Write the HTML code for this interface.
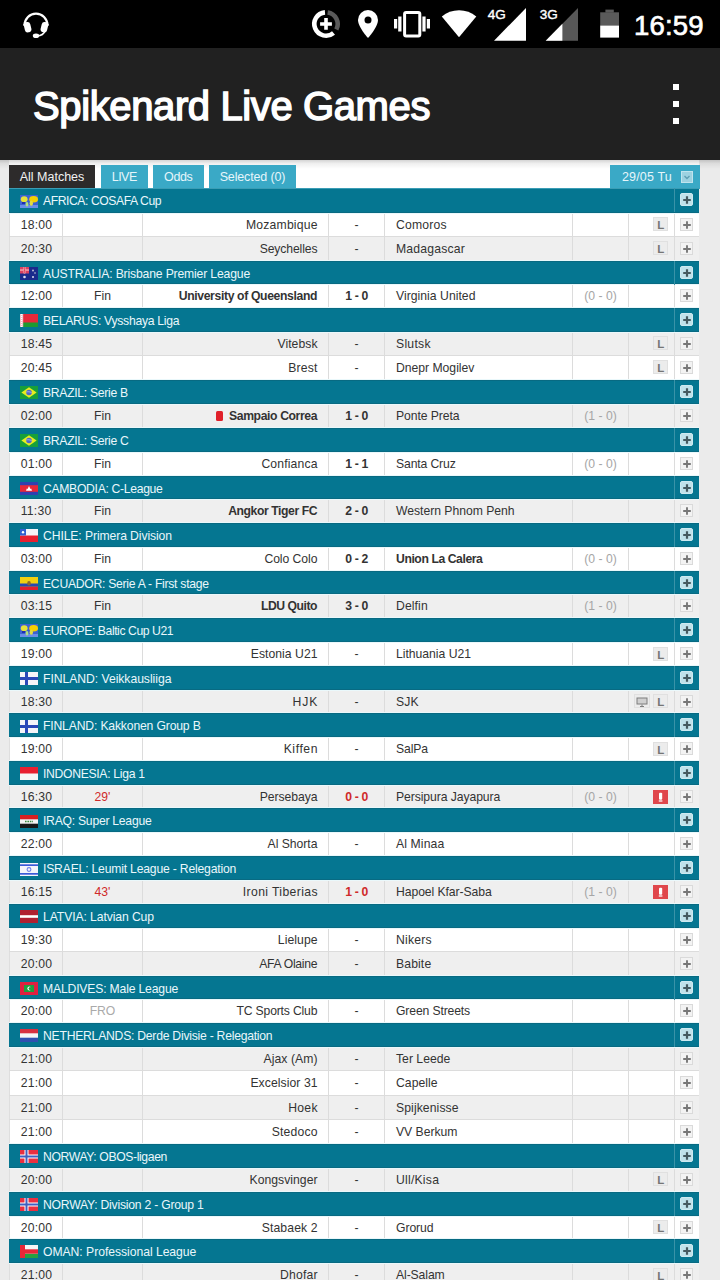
<!DOCTYPE html>
<html><head><meta charset="utf-8">
<style>
*{margin:0;padding:0;box-sizing:border-box}
html,body{width:720px;height:1280px;overflow:hidden;background:#ebebeb;font-family:"Liberation Sans",sans-serif}
#sb{position:absolute;left:0;top:0;width:720px;height:48px;background:#000}
#ab{position:absolute;left:0;top:48px;width:720px;height:112px;background:#212121}
#title{position:absolute;left:33px;top:30px;font-size:40px;font-weight:normal;-webkit-text-stroke:1.5px #fff;color:#fff;letter-spacing:-0.38px;line-height:56px;white-space:nowrap}
#menu{position:absolute;left:673px;top:36px;width:6px;height:40px}
#menu i{position:absolute;left:0;width:6px;height:6px;background:#fff}
#shadow{position:absolute;left:0;top:160px;width:720px;height:9px;background:linear-gradient(rgba(0,0,0,.17),rgba(0,0,0,.06) 40%,rgba(0,0,0,0))}
#wrap{position:absolute;left:9px;top:160px;width:690px;height:1117px;background:#fff}
.tab{position:absolute;top:165px;height:23px;line-height:24px;font-size:12.5px;color:#e6f6fb;text-align:center;letter-spacing:0;background:#3aa9c6;white-space:nowrap}
#t0{left:9px;width:86px;background:#2d2b2b;color:#f2f2f2}
#t1{left:101px;width:46.5px}
#t2{left:153px;width:50.5px}
#t3{left:209px;width:87px}
#date{position:absolute;left:610px;top:165px;width:89.5px;height:23.5px;background:#3aa9c6;color:#e6f6fb;font-size:12.5px;line-height:24px;letter-spacing:0.15px;padding-left:12px;white-space:nowrap}
#date .dd{position:absolute;left:70.5px;top:6px;width:12px;height:12px;background:#9dd2e1;border:1px solid #c0e4ee}
#date .dd svg{display:block}
#tbl{position:absolute;left:0;top:0;width:720px;height:1280px}
.hd{position:absolute;left:9px;width:690px;height:23.875px;background:#057691;border-top:1px solid #086a82;border-bottom:1px solid #086a82;box-shadow:0 -1px 0 #eaf8fb,0 1px 0 #eaf8fb;z-index:1}
.hd .fl{position:absolute;left:11px;top:5.3px}
.hd .ht{position:absolute;left:34px;top:0;line-height:24px;font-size:12.2px;color:#eaf7fb;letter-spacing:-0.38px;white-space:nowrap}
.hd .hdiv{position:absolute;left:665px;top:-1px;width:1px;height:23.875px;background:#3a93a8}
.hd .pb{position:absolute;left:671px;top:4.1px;width:12.8px;height:13px}
.mr{position:absolute;left:9px;width:690px;height:23.875px;border-bottom:1px solid #dcdcdc;box-shadow:inset 1px 0 0 #dedede;font-size:12.2px;color:#333}
.mr.w{background:#fff}
.mr.g{background:#efefef}
.c{position:absolute;top:0;height:100%;line-height:24px;white-space:nowrap;border-right:1px solid #dcdcdc}
.c0{left:0;width:54px;padding-left:11.8px;letter-spacing:0.2px}
.c1{left:54px;width:80px;text-align:center}
.c2{left:134px;width:186px;text-align:right;padding-right:10.5px;letter-spacing:-0.1px}
.c3{left:320px;width:56px;text-align:center}
.c4{left:376px;width:188px;padding-left:11px;letter-spacing:-0.1px}
.c5{left:564px;width:56px;text-align:center;color:#a6a6a6}
.c6{left:620px;width:46px;text-align:right;padding-right:5.7px}
.c7{left:666px;width:24px;border-right:none}
.b{font-weight:bold;letter-spacing:-0.35px}
.red{color:#cf2a2a}
.fro{color:#aaa}
.pb{position:absolute;left:5px;top:5px;width:13px;height:13px;background:#f3f3f3;border:1px solid #dadada}
.pb svg{position:absolute;left:0;top:0}
.pb.hp{background:#c0e2eb;border:1px solid #cdeaf1;border-radius:2px}
.lb{display:inline-block;vertical-align:top;margin-top:4.5px;width:15px;height:14px;line-height:14px;text-align:center;background:#ececec;border:1px solid #e0e0e0;color:#757575;font-weight:bold;font-size:11.5px}
.tv{display:inline-block;vertical-align:top;margin-top:4.5px;margin-right:3.5px;width:15.5px;height:14px;background:#ececec;border:1px solid #e0e0e0;position:relative}
.tv svg{position:absolute;left:1px;top:1.5px}
.ex{display:inline-block;vertical-align:top;margin-top:5.3px;width:15px;height:14px;line-height:14px;text-align:center;background:#e0474c;color:#fff;font-weight:bold;font-size:11px}
.rc{display:inline-block;width:7px;height:10px;background:#e0202a;border-radius:1.5px;margin-right:6px;vertical-align:-1px}
.sb-ic{position:absolute}
</style></head><body>
<div id="sb">
 <svg style="position:absolute;left:0;top:0" width="720" height="48" viewBox="0 0 720 48">
  <!-- headset -->
  <path d="M24.6 25 A11.4 11.4 0 0 1 47.4 25" fill="none" stroke="#fff" stroke-width="2.3"/>
  <path d="M24.6 24 V26 M47.4 24 V26" stroke="#fff" stroke-width="2.3"/>
  <rect x="24.3" y="22" width="6.6" height="10.4" rx="3" fill="#fff" transform="rotate(-14 27.6 27.2)"/>
  <rect x="41.1" y="22" width="6.6" height="10.4" rx="3" fill="#fff" transform="rotate(14 44.4 27.2)"/>
  <path d="M45 31 Q43.5 35.5 37 36" fill="none" stroke="#fff" stroke-width="1.6"/>
  <ellipse cx="36" cy="35.8" rx="3.2" ry="2.3" fill="#fff"/>
  <!-- data saver -->
  <path d="M333.52 32.96 A11.7 11.7 0 1 1 324.98 12.34" fill="none" stroke="#fff" stroke-width="4.6"/>
  <path d="M327.63 12.41 A11.7 11.7 0 0 1 336.33 29.49" fill="none" stroke="#5a5a5a" stroke-width="4.6"/>
  <path d="M326 18v11.8M320.1 24h11.8" stroke="#fff" stroke-width="3.6"/>
  <!-- location -->
  <path d="M368 10 A10 10 0 0 1 378 20 C378 27 368 38 368 38 C368 38 358 27 358 20 A10 10 0 0 1 368 10z" fill="#fff"/>
  <circle cx="368" cy="20" r="3.5" fill="#000"/>
  <!-- vibrate -->
  <rect x="404.6" y="12.4" width="15.2" height="23.6" rx="1.5" fill="none" stroke="#fff" stroke-width="3"/>
  <rect x="394" y="19" width="3.2" height="9.5" fill="#fff"/>
  <rect x="398.2" y="16.5" width="3.3" height="15" fill="#fff"/>
  <rect x="422.4" y="16.5" width="3.2" height="15" fill="#fff"/>
  <rect x="426.8" y="19" width="3.2" height="9.5" fill="#fff"/>
  <!-- wifi -->
  <path d="M441.8 16.5 A27 27 0 0 1 476.3 16.5 L459 37.3 Z" fill="#fff"/>
  <!-- 4G -->
  <path d="M494 40.8 L526 7.9 L526 40.8 Z" fill="#fff"/>
  <text x="487.8" y="18.7" font-family="Liberation Sans" font-size="13.5" fill="#fff" stroke="#fff" stroke-width="0.4" letter-spacing="0">4G</text>
  <!-- 3G -->
  <path d="M545.7 40.8 L578 7.9 L578 40.8 Z" fill="#585858"/>
  <path d="M545.7 40.8 L562.4 23.7 L562.4 40.8 Z" fill="#fff"/>
  <text x="539.8" y="18.7" font-family="Liberation Sans" font-size="13.5" fill="#fff" stroke="#fff" stroke-width="0.4" letter-spacing="0">3G</text>
  <!-- battery -->
  <rect x="605.4" y="9.6" width="8.4" height="3" fill="#5a5a5a"/>
  <rect x="600.2" y="12.3" width="18.8" height="13.2" fill="#5a5a5a"/>
  <rect x="600.2" y="25.5" width="18.8" height="12.1" fill="#fff"/>
  <text x="634" y="34.6" font-family="Liberation Sans" font-size="27.5" fill="#fff" stroke="#fff" stroke-width="0.7" letter-spacing="0.2">16:59</text>
 </svg>
</div>
<div id="ab"><div id="title">Spikenard Live Games</div>
 <div id="menu"><i style="top:0"></i><i style="top:17px"></i><i style="top:34px"></i></div>
</div>
<div id="wrap"></div>
<div id="shadow"></div>
<div class="tab" id="t0">All Matches</div>
<div class="tab" id="t1" style="letter-spacing:-0.5px">LIVE</div>
<div class="tab" id="t2" style="letter-spacing:-0.4px">Odds</div>
<div class="tab" id="t3" style="letter-spacing:-0.15px">Selected (0)</div>
<div id="date">29/05 Tu<div class="dd"><svg width="10" height="10" viewBox="0 0 10 10"><path d="M2.5 4l2.5 2.5L7.5 4" fill="none" stroke="#5f9fb3" stroke-width="1.4"/></svg></div></div>
<div id="tbl">
<div class="hd" style="top:188.400px;height:24.200px;box-shadow:0 1px 0 #eaf8fb;border-top-color:#3a9db5"><svg class="fl" width="18" height="13" viewBox="0 0 18 13"><rect width="18" height="13" fill="#3d62d2"/><rect y="10" width="18" height="3" fill="#6a8ee8"/><ellipse cx="4.2" cy="4.3" rx="3.4" ry="3" fill="#e6e23a"/><ellipse cx="7" cy="9.3" rx="1.4" ry="2.3" fill="#b0e080"/><ellipse cx="13.6" cy="4.3" rx="4.4" ry="3.2" fill="#f5d000"/><ellipse cx="11.3" cy="8.2" rx="1.7" ry="2.6" fill="#e4dc40"/><rect x="2" y="7" width="3" height="2" fill="#2030b0"/></svg><span class="ht" style="letter-spacing:-0.439px">AFRICA: COSAFA Cup</span><div class="hdiv"></div><div class="pb hp"><svg width="12" height="12" viewBox="0 0 12 12"><path d="M6 2.2v7.6M2.2 6h7.6" stroke="#455a60" stroke-width="2.2"/></svg></div></div>
<div class="mr w" style="top:212.600px;height:24.200px"><div class="c c0">18:00</div><div class="c c1 st"></div><div class="c c2" style="letter-spacing:0.2px;padding-right:10.300px">Mozambique</div><div class="c c3 sc">-</div><div class="c c4" style="letter-spacing:0.2px">Comoros</div><div class="c c5"></div><div class="c c6"><span class="lb">L</span></div><div class="c c7"><div class="pb"><svg width="12" height="12" viewBox="0 0 12 12"><path d="M6 2.2v7.6M2.2 6h7.6" stroke="#777" stroke-width="1.9"/></svg></div></div></div>
<div class="mr g" style="top:236.800px;height:24.200px"><div class="c c0">20:30</div><div class="c c1 st"></div><div class="c c2" style="letter-spacing:-0.121px;padding-right:10.621px">Seychelles</div><div class="c c3 sc">-</div><div class="c c4" style="letter-spacing:0.2px">Madagascar</div><div class="c c5"></div><div class="c c6"><span class="lb">L</span></div><div class="c c7"><div class="pb"><svg width="12" height="12" viewBox="0 0 12 12"><path d="M6 2.2v7.6M2.2 6h7.6" stroke="#777" stroke-width="1.9"/></svg></div></div></div>
<div class="hd" style="top:261.000px;height:23.350px"><svg class="fl" width="18" height="13" viewBox="0 0 18 13"><rect width="18" height="13" fill="#1a2a8c"/><rect width="9" height="6.5" fill="#d84060"/><path d="M0 3.2h9M4.5 0v6.5" stroke="#fff" stroke-width="1.6"/><path d="M0 3.2h9M4.5 0v6.5" stroke="#e0304a" stroke-width=".8"/><circle cx="4.5" cy="10" r="1.3" fill="#dde"/><circle cx="13" cy="3.5" r=".9" fill="#ccd"/><circle cx="15" cy="6" r=".8" fill="#ccd"/><circle cx="13" cy="10" r="1" fill="#dde"/></svg><span class="ht" style="letter-spacing:-0.168px">AUSTRALIA: Brisbane Premier League</span><div class="hdiv"></div><div class="pb hp"><svg width="12" height="12" viewBox="0 0 12 12"><path d="M6 2.2v7.6M2.2 6h7.6" stroke="#455a60" stroke-width="2.2"/></svg></div></div>
<div class="mr w" style="top:284.350px;height:23.350px"><div class="c c0">12:00</div><div class="c c1 st">Fin</div><div class="c c2 b" style="letter-spacing:-0.354px;padding-right:10.854px">University of Queensland</div><div class="c c3 sc b">1 - 0</div><div class="c c4" style="letter-spacing:0.028px">Virginia United</div><div class="c c5">(0 - 0)</div><div class="c c6"></div><div class="c c7"><div class="pb"><svg width="12" height="12" viewBox="0 0 12 12"><path d="M6 2.2v7.6M2.2 6h7.6" stroke="#777" stroke-width="1.9"/></svg></div></div></div>
<div class="hd" style="top:307.700px;height:24.100px"><svg class="fl" width="18" height="13" viewBox="0 0 18 13"><rect width="18" height="13" fill="#e8283a"/><rect y="8.5" width="18" height="4.5" fill="#1e9a30"/><rect width="3.2" height="13" fill="#f0c0c8"/><path d="M1.6 0v13" stroke="#fff" stroke-width="1.2" stroke-dasharray="1 1"/></svg><span class="ht" style="letter-spacing:-0.285px">BELARUS: Vysshaya Liga</span><div class="hdiv"></div><div class="pb hp"><svg width="12" height="12" viewBox="0 0 12 12"><path d="M6 2.2v7.6M2.2 6h7.6" stroke="#455a60" stroke-width="2.2"/></svg></div></div>
<div class="mr g" style="top:331.800px;height:24.100px"><div class="c c0">18:45</div><div class="c c1 st"></div><div class="c c2" style="letter-spacing:0.05px;padding-right:10.450px">Vitebsk</div><div class="c c3 sc">-</div><div class="c c4" style="letter-spacing:0.26px">Slutsk</div><div class="c c5"></div><div class="c c6"><span class="lb">L</span></div><div class="c c7"><div class="pb"><svg width="12" height="12" viewBox="0 0 12 12"><path d="M6 2.2v7.6M2.2 6h7.6" stroke="#777" stroke-width="1.9"/></svg></div></div></div>
<div class="mr w" style="top:355.900px;height:24.100px"><div class="c c0">20:45</div><div class="c c1 st"></div><div class="c c2" style="letter-spacing:0.2px;padding-right:10.300px">Brest</div><div class="c c3 sc">-</div><div class="c c4" style="letter-spacing:-0.017px">Dnepr Mogilev</div><div class="c c5"></div><div class="c c6"><span class="lb">L</span></div><div class="c c7"><div class="pb"><svg width="12" height="12" viewBox="0 0 12 12"><path d="M6 2.2v7.6M2.2 6h7.6" stroke="#777" stroke-width="1.9"/></svg></div></div></div>
<div class="hd" style="top:380.000px;height:23.850px"><svg class="fl" width="18" height="13" viewBox="0 0 18 13"><rect width="18" height="13" fill="#18a03a"/><path d="M9 1.3L16.6 6.5 9 11.7 1.4 6.5z" fill="#e8ec20"/><circle cx="9" cy="6.5" r="2.8" fill="#5068c8"/><path d="M6.4 6c1.5-.5 3.5-.3 5.2.6" stroke="#dde" stroke-width=".6" fill="none"/></svg><span class="ht" style="letter-spacing:-0.308px">BRAZIL: Serie B</span><div class="hdiv"></div><div class="pb hp"><svg width="12" height="12" viewBox="0 0 12 12"><path d="M6 2.2v7.6M2.2 6h7.6" stroke="#455a60" stroke-width="2.2"/></svg></div></div>
<div class="mr g" style="top:403.850px;height:23.850px"><div class="c c0">02:00</div><div class="c c1 st">Fin</div><div class="c c2 b" style="letter-spacing:-0.382px;padding-right:10.882px"><i class="rc"></i>Sampaio Correa</div><div class="c c3 sc b">1 - 0</div><div class="c c4" style="letter-spacing:-0.08px">Ponte Preta</div><div class="c c5">(1 - 0)</div><div class="c c6"></div><div class="c c7"><div class="pb"><svg width="12" height="12" viewBox="0 0 12 12"><path d="M6 2.2v7.6M2.2 6h7.6" stroke="#777" stroke-width="1.9"/></svg></div></div></div>
<div class="hd" style="top:427.700px;height:23.950px"><svg class="fl" width="18" height="13" viewBox="0 0 18 13"><rect width="18" height="13" fill="#18a03a"/><path d="M9 1.3L16.6 6.5 9 11.7 1.4 6.5z" fill="#e8ec20"/><circle cx="9" cy="6.5" r="2.8" fill="#5068c8"/><path d="M6.4 6c1.5-.5 3.5-.3 5.2.6" stroke="#dde" stroke-width=".6" fill="none"/></svg><span class="ht" style="letter-spacing:-0.308px">BRAZIL: Serie C</span><div class="hdiv"></div><div class="pb hp"><svg width="12" height="12" viewBox="0 0 12 12"><path d="M6 2.2v7.6M2.2 6h7.6" stroke="#455a60" stroke-width="2.2"/></svg></div></div>
<div class="mr w" style="top:451.650px;height:23.950px"><div class="c c0">01:00</div><div class="c c1 st">Fin</div><div class="c c2" style="letter-spacing:0.15px;padding-right:10.350px">Confianca</div><div class="c c3 sc b">1 - 1</div><div class="c c4" style="letter-spacing:-0.133px">Santa Cruz</div><div class="c c5">(0 - 0)</div><div class="c c6"></div><div class="c c7"><div class="pb"><svg width="12" height="12" viewBox="0 0 12 12"><path d="M6 2.2v7.6M2.2 6h7.6" stroke="#777" stroke-width="1.9"/></svg></div></div></div>
<div class="hd" style="top:475.600px;height:23.750px"><svg class="fl" width="18" height="13" viewBox="0 0 18 13"><rect width="18" height="13" fill="#3040b0"/><rect y="3.2" width="18" height="6.6" fill="#e82838"/><path d="M6 8.8h6l-.8-2.4-.8.6-1.4-3-1.4 3-.8-.6z" fill="#fff"/></svg><span class="ht" style="letter-spacing:-0.322px">CAMBODIA: C-League</span><div class="hdiv"></div><div class="pb hp"><svg width="12" height="12" viewBox="0 0 12 12"><path d="M6 2.2v7.6M2.2 6h7.6" stroke="#455a60" stroke-width="2.2"/></svg></div></div>
<div class="mr g" style="top:499.350px;height:23.750px"><div class="c c0">11:30</div><div class="c c1 st">Fin</div><div class="c c2 b" style="letter-spacing:-0.421px;padding-right:10.921px">Angkor Tiger FC</div><div class="c c3 sc b">2 - 0</div><div class="c c4" style="letter-spacing:-0.029px">Western Phnom Penh</div><div class="c c5"></div><div class="c c6"></div><div class="c c7"><div class="pb"><svg width="12" height="12" viewBox="0 0 12 12"><path d="M6 2.2v7.6M2.2 6h7.6" stroke="#777" stroke-width="1.9"/></svg></div></div></div>
<div class="hd" style="top:523.100px;height:23.750px"><svg class="fl" width="18" height="13" viewBox="0 0 18 13"><rect width="18" height="13" fill="#f4f4f8"/><rect y="6.5" width="18" height="6.5" fill="#e82030"/><rect width="6" height="6.5" fill="#3060d0"/><circle cx="3" cy="3.2" r="1.2" fill="#fff"/></svg><span class="ht" style="letter-spacing:-0.107px">CHILE: Primera Division</span><div class="hdiv"></div><div class="pb hp"><svg width="12" height="12" viewBox="0 0 12 12"><path d="M6 2.2v7.6M2.2 6h7.6" stroke="#455a60" stroke-width="2.2"/></svg></div></div>
<div class="mr w" style="top:546.850px;height:23.750px"><div class="c c0">03:00</div><div class="c c1 st">Fin</div><div class="c c2" style="letter-spacing:-0.05px;padding-right:10.550px">Colo Colo</div><div class="c c3 sc b">0 - 2</div><div class="c c4 b" style="letter-spacing:-0.421px">Union La Calera</div><div class="c c5">(0 - 0)</div><div class="c c6"></div><div class="c c7"><div class="pb"><svg width="12" height="12" viewBox="0 0 12 12"><path d="M6 2.2v7.6M2.2 6h7.6" stroke="#777" stroke-width="1.9"/></svg></div></div></div>
<div class="hd" style="top:570.600px;height:23.750px"><svg class="fl" width="18" height="13" viewBox="0 0 18 13"><rect width="18" height="13" fill="#f0d010"/><rect y="6.5" width="18" height="3.25" fill="#2848b0"/><rect y="9.75" width="18" height="3.25" fill="#e02030"/><ellipse cx="9" cy="6.3" rx="1.8" ry="2.3" fill="#8a6a30"/></svg><span class="ht" style="letter-spacing:-0.277px">ECUADOR: Serie A - First stage</span><div class="hdiv"></div><div class="pb hp"><svg width="12" height="12" viewBox="0 0 12 12"><path d="M6 2.2v7.6M2.2 6h7.6" stroke="#455a60" stroke-width="2.2"/></svg></div></div>
<div class="mr g" style="top:594.350px;height:23.750px"><div class="c c0">03:15</div><div class="c c1 st">Fin</div><div class="c c2 b" style="letter-spacing:-0.475px;padding-right:10.975px">LDU Quito</div><div class="c c3 sc b">3 - 0</div><div class="c c4" style="letter-spacing:0.1px">Delfin</div><div class="c c5">(1 - 0)</div><div class="c c6"></div><div class="c c7"><div class="pb"><svg width="12" height="12" viewBox="0 0 12 12"><path d="M6 2.2v7.6M2.2 6h7.6" stroke="#777" stroke-width="1.9"/></svg></div></div></div>
<div class="hd" style="top:618.100px;height:23.950px"><svg class="fl" width="18" height="13" viewBox="0 0 18 13"><rect width="18" height="13" fill="#3d62d2"/><rect y="10" width="18" height="3" fill="#6a8ee8"/><ellipse cx="4.2" cy="4.3" rx="3.4" ry="3" fill="#e6e23a"/><ellipse cx="7" cy="9.3" rx="1.4" ry="2.3" fill="#b0e080"/><ellipse cx="13.6" cy="4.3" rx="4.4" ry="3.2" fill="#f5d000"/><ellipse cx="11.3" cy="8.2" rx="1.7" ry="2.6" fill="#e4dc40"/><rect x="2" y="7" width="3" height="2" fill="#2030b0"/></svg><span class="ht" style="letter-spacing:-0.427px">EUROPE: Baltic Cup U21</span><div class="hdiv"></div><div class="pb hp"><svg width="12" height="12" viewBox="0 0 12 12"><path d="M6 2.2v7.6M2.2 6h7.6" stroke="#455a60" stroke-width="2.2"/></svg></div></div>
<div class="mr w" style="top:642.050px;height:23.950px"><div class="c c0">19:00</div><div class="c c1 st"></div><div class="c c2" style="letter-spacing:0.03px;padding-right:10.470px">Estonia U21</div><div class="c c3 sc">-</div><div class="c c4" style="letter-spacing:-0.017px">Lithuania U21</div><div class="c c5"></div><div class="c c6"><span class="lb">L</span></div><div class="c c7"><div class="pb"><svg width="12" height="12" viewBox="0 0 12 12"><path d="M6 2.2v7.6M2.2 6h7.6" stroke="#777" stroke-width="1.9"/></svg></div></div></div>
<div class="hd" style="top:666.000px;height:23.700px"><svg class="fl" width="18" height="13" viewBox="0 0 18 13"><rect width="18" height="13" fill="#f4f4f8"/><rect y="5" width="18" height="3" fill="#2a48b8"/><rect x="5" width="3" height="13" fill="#2a48b8"/></svg><span class="ht" style="letter-spacing:-0.046px">FINLAND: Veikkausliiga</span><div class="hdiv"></div><div class="pb hp"><svg width="12" height="12" viewBox="0 0 12 12"><path d="M6 2.2v7.6M2.2 6h7.6" stroke="#455a60" stroke-width="2.2"/></svg></div></div>
<div class="mr g" style="top:689.700px;height:23.700px"><div class="c c0">18:30</div><div class="c c1 st"></div><div class="c c2" style="letter-spacing:1.05px;padding-right:9.450px">HJK</div><div class="c c3 sc">-</div><div class="c c4" style="letter-spacing:0.2px">SJK</div><div class="c c5"></div><div class="c c6"><span class="tv"><svg width="12" height="10" viewBox="0 0 12 10"><rect x="0.5" y="0.5" width="11" height="7" fill="#7d7d7d" /><rect x="1.5" y="1.5" width="9" height="5" fill="#cfcfcf"/><path d="M4 9.5h4M6 7.5v2" stroke="#7d7d7d" stroke-width="1"/></svg></span><span class="lb">L</span></div><div class="c c7"><div class="pb"><svg width="12" height="12" viewBox="0 0 12 12"><path d="M6 2.2v7.6M2.2 6h7.6" stroke="#777" stroke-width="1.9"/></svg></div></div></div>
<div class="hd" style="top:713.400px;height:23.800px"><svg class="fl" width="18" height="13" viewBox="0 0 18 13"><rect width="18" height="13" fill="#f4f4f8"/><rect y="5" width="18" height="3" fill="#2a48b8"/><rect x="5" width="3" height="13" fill="#2a48b8"/></svg><span class="ht" style="letter-spacing:-0.171px">FINLAND: Kakkonen Group B</span><div class="hdiv"></div><div class="pb hp"><svg width="12" height="12" viewBox="0 0 12 12"><path d="M6 2.2v7.6M2.2 6h7.6" stroke="#455a60" stroke-width="2.2"/></svg></div></div>
<div class="mr w" style="top:737.200px;height:23.800px"><div class="c c0">19:00</div><div class="c c1 st"></div><div class="c c2" style="letter-spacing:0.58px;padding-right:9.920px">Kiffen</div><div class="c c3 sc">-</div><div class="c c4" style="letter-spacing:-0.1px">SalPa</div><div class="c c5"></div><div class="c c6"><span class="lb">L</span></div><div class="c c7"><div class="pb"><svg width="12" height="12" viewBox="0 0 12 12"><path d="M6 2.2v7.6M2.2 6h7.6" stroke="#777" stroke-width="1.9"/></svg></div></div></div>
<div class="hd" style="top:761.000px;height:23.700px"><svg class="fl" width="18" height="13" viewBox="0 0 18 13"><rect width="18" height="13" fill="#f6f6f6"/><rect width="18" height="6.5" fill="#e82030"/></svg><span class="ht" style="letter-spacing:-0.318px">INDONESIA: Liga 1</span><div class="hdiv"></div><div class="pb hp"><svg width="12" height="12" viewBox="0 0 12 12"><path d="M6 2.2v7.6M2.2 6h7.6" stroke="#455a60" stroke-width="2.2"/></svg></div></div>
<div class="mr g" style="top:784.700px;height:23.700px"><div class="c c0">16:30</div><div class="c c1 st red">29'</div><div class="c c2" style="letter-spacing:-0.05px;padding-right:10.550px">Persebaya</div><div class="c c3 sc red b">0 - 0</div><div class="c c4" style="letter-spacing:-0.082px">Persipura Jayapura</div><div class="c c5">(0 - 0)</div><div class="c c6"><span class="ex"><svg width="15" height="14" viewBox="0 0 15 14" style="display:block"><rect x="6" y="2.7" width="3.2" height="7" rx="1" fill="#fff"/><rect x="5.8" y="10.3" width="3.6" height="1.4" fill="#fff" opacity=".9"/></svg></span></div><div class="c c7"><div class="pb"><svg width="12" height="12" viewBox="0 0 12 12"><path d="M6 2.2v7.6M2.2 6h7.6" stroke="#777" stroke-width="1.9"/></svg></div></div></div>
<div class="hd" style="top:808.400px;height:23.950px"><svg class="fl" width="18" height="13" viewBox="0 0 18 13"><rect width="18" height="13" fill="#f4f4f4"/><rect width="18" height="4.3" fill="#d82020"/><rect y="8.7" width="18" height="4.3" fill="#181818"/><path d="M5 6.5h8" stroke="#3a8a40" stroke-width="1.4" stroke-dasharray="1.6 .8"/></svg><span class="ht" style="letter-spacing:-0.262px">IRAQ: Super League</span><div class="hdiv"></div><div class="pb hp"><svg width="12" height="12" viewBox="0 0 12 12"><path d="M6 2.2v7.6M2.2 6h7.6" stroke="#455a60" stroke-width="2.2"/></svg></div></div>
<div class="mr w" style="top:832.350px;height:23.950px"><div class="c c0">22:00</div><div class="c c1 st"></div><div class="c c2" style="letter-spacing:-0.025px;padding-right:10.525px">Al Shorta</div><div class="c c3 sc">-</div><div class="c c4" style="letter-spacing:0.114px">Al Minaa</div><div class="c c5"></div><div class="c c6"></div><div class="c c7"><div class="pb"><svg width="12" height="12" viewBox="0 0 12 12"><path d="M6 2.2v7.6M2.2 6h7.6" stroke="#777" stroke-width="1.9"/></svg></div></div></div>
<div class="hd" style="top:856.300px;height:23.725px"><svg class="fl" width="18" height="13" viewBox="0 0 18 13"><rect width="18" height="13" fill="#f4f4fa"/><rect y="1.3" width="18" height="1.7" fill="#3a5ad8"/><rect y="10" width="18" height="1.7" fill="#3a5ad8"/><circle cx="9" cy="6.5" r="1.9" fill="none" stroke="#6a80e8" stroke-width="1.1"/></svg><span class="ht" style="letter-spacing:-0.198px">ISRAEL: Leumit League - Relegation</span><div class="hdiv"></div><div class="pb hp"><svg width="12" height="12" viewBox="0 0 12 12"><path d="M6 2.2v7.6M2.2 6h7.6" stroke="#455a60" stroke-width="2.2"/></svg></div></div>
<div class="mr g" style="top:880.025px;height:23.725px"><div class="c c0">16:15</div><div class="c c1 st red">43'</div><div class="c c2" style="letter-spacing:0.377px;padding-right:10.123px">Ironi Tiberias</div><div class="c c3 sc red b">1 - 0</div><div class="c c4" style="letter-spacing:-0.073px">Hapoel Kfar-Saba</div><div class="c c5">(1 - 0)</div><div class="c c6"><span class="ex"><svg width="15" height="14" viewBox="0 0 15 14" style="display:block"><rect x="6" y="2.7" width="3.2" height="7" rx="1" fill="#fff"/><rect x="5.8" y="10.3" width="3.6" height="1.4" fill="#fff" opacity=".9"/></svg></span></div><div class="c c7"><div class="pb"><svg width="12" height="12" viewBox="0 0 12 12"><path d="M6 2.2v7.6M2.2 6h7.6" stroke="#777" stroke-width="1.9"/></svg></div></div></div>
<div class="hd" style="top:903.750px;height:24.017px"><svg class="fl" width="18" height="13" viewBox="0 0 18 13"><rect width="18" height="13" fill="#b02030"/><rect y="5.2" width="18" height="2.6" fill="#fff"/></svg><span class="ht" style="letter-spacing:-0.102px">LATVIA: Latvian Cup</span><div class="hdiv"></div><div class="pb hp"><svg width="12" height="12" viewBox="0 0 12 12"><path d="M6 2.2v7.6M2.2 6h7.6" stroke="#455a60" stroke-width="2.2"/></svg></div></div>
<div class="mr w" style="top:927.767px;height:24.017px"><div class="c c0">19:30</div><div class="c c1 st"></div><div class="c c2" style="letter-spacing:0.067px;padding-right:10.433px">Lielupe</div><div class="c c3 sc">-</div><div class="c c4" style="letter-spacing:0.22px">Nikers</div><div class="c c5"></div><div class="c c6"></div><div class="c c7"><div class="pb"><svg width="12" height="12" viewBox="0 0 12 12"><path d="M6 2.2v7.6M2.2 6h7.6" stroke="#777" stroke-width="1.9"/></svg></div></div></div>
<div class="mr g" style="top:951.783px;height:24.017px"><div class="c c0">20:00</div><div class="c c1 st"></div><div class="c c2" style="letter-spacing:-0.301px;padding-right:10.801px">AFA Olaine</div><div class="c c3 sc">-</div><div class="c c4" style="letter-spacing:0.12px">Babite</div><div class="c c5"></div><div class="c c6"></div><div class="c c7"><div class="pb"><svg width="12" height="12" viewBox="0 0 12 12"><path d="M6 2.2v7.6M2.2 6h7.6" stroke="#777" stroke-width="1.9"/></svg></div></div></div>
<div class="hd" style="top:975.800px;height:23.650px"><svg class="fl" width="18" height="13" viewBox="0 0 18 13"><rect width="18" height="13" fill="#e02040"/><rect x="4" y="3" width="10" height="7" fill="#20a040"/><circle cx="9.3" cy="6.5" r="1.9" fill="#fff"/><circle cx="10.2" cy="6.5" r="1.6" fill="#20a040"/></svg><span class="ht" style="letter-spacing:-0.18px">MALDIVES: Male League</span><div class="hdiv"></div><div class="pb hp"><svg width="12" height="12" viewBox="0 0 12 12"><path d="M6 2.2v7.6M2.2 6h7.6" stroke="#455a60" stroke-width="2.2"/></svg></div></div>
<div class="mr w" style="top:999.450px;height:23.650px"><div class="c c0">20:00</div><div class="c c1 st fro">FRO</div><div class="c c2" style="letter-spacing:-0.177px;padding-right:10.677px">TC Sports Club</div><div class="c c3 sc">-</div><div class="c c4" style="letter-spacing:-0.142px">Green Streets</div><div class="c c5"></div><div class="c c6"></div><div class="c c7"><div class="pb"><svg width="12" height="12" viewBox="0 0 12 12"><path d="M6 2.2v7.6M2.2 6h7.6" stroke="#777" stroke-width="1.9"/></svg></div></div></div>
<div class="hd" style="top:1023.100px;height:24.172px"><svg class="fl" width="18" height="13" viewBox="0 0 18 13"><rect width="18" height="13" fill="#f6f6f6"/><rect width="18" height="4.3" fill="#d83040"/><rect y="8.7" width="18" height="4.3" fill="#3050b0"/></svg><span class="ht" style="letter-spacing:-0.249px">NETHERLANDS: Derde Divisie - Relegation</span><div class="hdiv"></div><div class="pb hp"><svg width="12" height="12" viewBox="0 0 12 12"><path d="M6 2.2v7.6M2.2 6h7.6" stroke="#455a60" stroke-width="2.2"/></svg></div></div>
<div class="mr g" style="top:1047.272px;height:24.172px"><div class="c c0">21:00</div><div class="c c1 st"></div><div class="c c2" style="letter-spacing:0.061px;padding-right:10.439px">Ajax (Am)</div><div class="c c3 sc">-</div><div class="c c4" style="letter-spacing:0.014px">Ter Leede</div><div class="c c5"></div><div class="c c6"></div><div class="c c7"><div class="pb"><svg width="12" height="12" viewBox="0 0 12 12"><path d="M6 2.2v7.6M2.2 6h7.6" stroke="#777" stroke-width="1.9"/></svg></div></div></div>
<div class="mr w" style="top:1071.444px;height:24.172px"><div class="c c0">21:00</div><div class="c c1 st"></div><div class="c c2" style="letter-spacing:0.064px;padding-right:10.436px">Excelsior 31</div><div class="c c3 sc">-</div><div class="c c4" style="letter-spacing:0.05px">Capelle</div><div class="c c5"></div><div class="c c6"></div><div class="c c7"><div class="pb"><svg width="12" height="12" viewBox="0 0 12 12"><path d="M6 2.2v7.6M2.2 6h7.6" stroke="#777" stroke-width="1.9"/></svg></div></div></div>
<div class="mr g" style="top:1095.616px;height:24.172px"><div class="c c0">21:00</div><div class="c c1 st"></div><div class="c c2" style="letter-spacing:0.3px;padding-right:10.200px">Hoek</div><div class="c c3 sc">-</div><div class="c c4" style="letter-spacing:0.09px">Spijkenisse</div><div class="c c5"></div><div class="c c6"></div><div class="c c7"><div class="pb"><svg width="12" height="12" viewBox="0 0 12 12"><path d="M6 2.2v7.6M2.2 6h7.6" stroke="#777" stroke-width="1.9"/></svg></div></div></div>
<div class="mr w" style="top:1119.788px;height:24.172px"><div class="c c0">21:00</div><div class="c c1 st"></div><div class="c c2" style="letter-spacing:0.184px;padding-right:10.316px">Stedoco</div><div class="c c3 sc">-</div><div class="c c4" style="letter-spacing:-0.025px">VV Berkum</div><div class="c c5"></div><div class="c c6"></div><div class="c c7"><div class="pb"><svg width="12" height="12" viewBox="0 0 12 12"><path d="M6 2.2v7.6M2.2 6h7.6" stroke="#777" stroke-width="1.9"/></svg></div></div></div>
<div class="hd" style="top:1143.960px;height:24.020px"><svg class="fl" width="18" height="13" viewBox="0 0 18 13"><rect width="18" height="13" fill="#e83040"/><rect y="4.5" width="18" height="4" fill="#fff"/><rect x="4.5" width="4" height="13" fill="#fff"/><rect y="5.5" width="18" height="2" fill="#4060c0"/><rect x="5.5" width="2" height="13" fill="#4060c0"/></svg><span class="ht" style="letter-spacing:-0.38px">NORWAY: OBOS-ligaen</span><div class="hdiv"></div><div class="pb hp"><svg width="12" height="12" viewBox="0 0 12 12"><path d="M6 2.2v7.6M2.2 6h7.6" stroke="#455a60" stroke-width="2.2"/></svg></div></div>
<div class="mr g" style="top:1167.980px;height:24.020px"><div class="c c0">20:00</div><div class="c c1 st"></div><div class="c c2" style="letter-spacing:0.02px;padding-right:10.480px">Kongsvinger</div><div class="c c3 sc">-</div><div class="c c4" style="letter-spacing:0.228px">Ull/Kisa</div><div class="c c5"></div><div class="c c6"><span class="lb">L</span></div><div class="c c7"><div class="pb"><svg width="12" height="12" viewBox="0 0 12 12"><path d="M6 2.2v7.6M2.2 6h7.6" stroke="#777" stroke-width="1.9"/></svg></div></div></div>
<div class="hd" style="top:1192.000px;height:23.600px"><svg class="fl" width="18" height="13" viewBox="0 0 18 13"><rect width="18" height="13" fill="#e83040"/><rect y="4.5" width="18" height="4" fill="#fff"/><rect x="4.5" width="4" height="13" fill="#fff"/><rect y="5.5" width="18" height="2" fill="#4060c0"/><rect x="5.5" width="2" height="13" fill="#4060c0"/></svg><span class="ht" style="letter-spacing:-0.231px">NORWAY: Division 2 - Group 1</span><div class="hdiv"></div><div class="pb hp"><svg width="12" height="12" viewBox="0 0 12 12"><path d="M6 2.2v7.6M2.2 6h7.6" stroke="#455a60" stroke-width="2.2"/></svg></div></div>
<div class="mr w" style="top:1215.600px;height:23.600px"><div class="c c0">20:00</div><div class="c c1 st"></div><div class="c c2" style="letter-spacing:0.111px;padding-right:10.389px">Stabaek 2</div><div class="c c3 sc">-</div><div class="c c4" style="letter-spacing:-0.08px">Grorud</div><div class="c c5"></div><div class="c c6"><span class="lb">L</span></div><div class="c c7"><div class="pb"><svg width="12" height="12" viewBox="0 0 12 12"><path d="M6 2.2v7.6M2.2 6h7.6" stroke="#777" stroke-width="1.9"/></svg></div></div></div>
<div class="hd" style="top:1239.200px;height:23.850px"><svg class="fl" width="18" height="13" viewBox="0 0 18 13"><rect width="18" height="13" fill="#f6f6f6"/><rect y="8.7" width="18" height="4.3" fill="#28a040"/><rect y="4.3" width="18" height="4.4" fill="#e82838"/><rect width="5" height="13" fill="#e82838"/></svg><span class="ht" style="letter-spacing:-0.047px">OMAN: Professional League</span><div class="hdiv"></div><div class="pb hp"><svg width="12" height="12" viewBox="0 0 12 12"><path d="M6 2.2v7.6M2.2 6h7.6" stroke="#455a60" stroke-width="2.2"/></svg></div></div>
<div class="mr g" style="top:1263.050px;height:23.850px"><div class="c c0">21:00</div><div class="c c1 st"></div><div class="c c2" style="letter-spacing:0.2px;padding-right:10.300px">Dhofar</div><div class="c c3 sc">-</div><div class="c c4" style="letter-spacing:-0.1px">Al-Salam</div><div class="c c5"></div><div class="c c6"><span class="lb">L</span></div><div class="c c7"><div class="pb"><svg width="12" height="12" viewBox="0 0 12 12"><path d="M6 2.2v7.6M2.2 6h7.6" stroke="#777" stroke-width="1.9"/></svg></div></div></div>
</div>
</body></html>
